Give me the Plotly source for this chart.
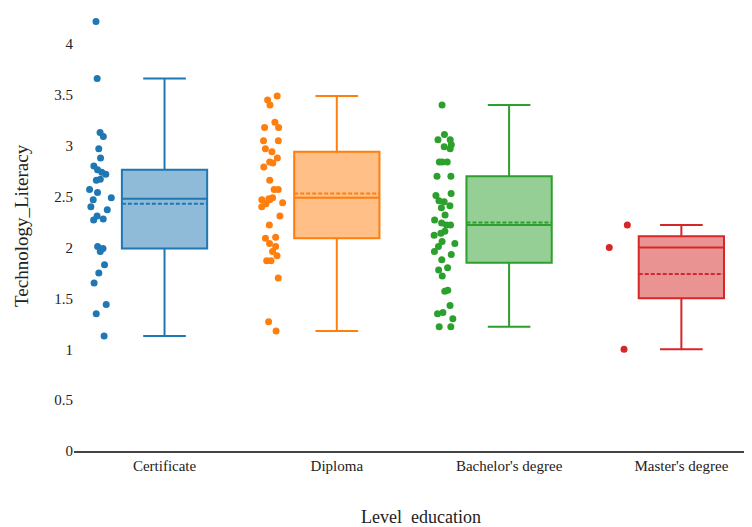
import plotly.graph_objects as go

categories = ["Certificate", "Diploma", "Bachelor's degree", "Master's degree"]
colors = ["#1f77b4", "#ff7f0e", "#2ca02c", "#d62728"]
fills = ["rgba(31,119,180,0.5)", "rgba(255,127,14,0.5)",
         "rgba(44,160,44,0.5)", "rgba(214,39,40,0.5)"]

certificate = [1.13, 1.35, 1.44, 1.65, 1.75, 1.83, 1.96, 1.99, 2.01, 2.27,
               2.28, 2.31, 2.37, 2.40, 2.47, 2.49, 2.54, 2.57, 2.66, 2.67,
               2.72, 2.74, 2.765, 2.80, 2.88, 2.97, 3.09, 3.13, 3.66, 4.22]
diploma = [1.18, 1.27, 1.70, 1.87, 1.87, 1.92, 1.96, 2.01, 2.04, 2.09,
           2.10, 2.22, 2.31, 2.40, 2.43, 2.44, 2.47, 2.47, 2.49, 2.48,
           2.57, 2.57, 2.66, 2.79, 2.83, 2.84, 2.88, 2.94, 2.97, 3.05,
           3.05, 3.18, 3.18, 3.23, 3.40, 3.45, 3.49]
bachelor = [1.22, 1.22, 1.30, 1.35, 1.36, 1.43, 1.57, 1.58, 1.72, 1.78,
            1.80, 1.88, 1.93, 1.96, 2.01, 2.04, 2.06, 2.12, 2.14, 2.16,
            2.22, 2.22, 2.24, 2.27, 2.32, 2.39, 2.41, 2.45, 2.46, 2.51,
            2.53, 2.70, 2.70, 2.84, 2.84, 2.84, 2.97, 2.99, 3.01, 3.06,
            3.06, 3.11, 3.40]
master = [1.00, 2.00, 2.22]

q1_vals = [1.99, 2.09, 1.85, 1.50]
median_vals = [2.48, 2.49, 2.22, 2.00]
q3_vals = [2.765, 2.94, 2.70, 2.11]
mean_vals = [2.43, 2.53, 2.245, 1.74]
lower_whisker = [1.13, 1.18, 1.22, 1.00]
upper_whisker = [3.66, 3.49, 3.40, 2.22]

y_ticks = [0, 0.5, 1, 1.5, 2, 2.5, 3, 3.5, 4]
y_tick_text = ["0", "0.5", "1", "1.5", "2", "2.5", "3", "3.5", "4"]

groups = [certificate, diploma, bachelor, master]

fig = go.Figure()
for i, cat in enumerate(categories):
    fig.add_trace(go.Box(
        x=[cat], y=[groups[i]],
        q1=[q1_vals[i]], median=[median_vals[i]], q3=[q3_vals[i]],
        lowerfence=[lower_whisker[i]], upperfence=[upper_whisker[i]],
        mean=[mean_vals[i]], boxmean=True,
        boxpoints="all", jitter=0.3, pointpos=-1.5,
        marker=dict(color=colors[i], size=7),
        line=dict(color=colors[i], width=2),
        fillcolor=fills[i], width=0.495, whiskerwidth=0.5,
        showlegend=False, name=cat,
    ))

font_family = "Liberation Serif"
fig.update_layout(
    width=752, height=527,
    margin=dict(l=66, r=8, t=2, b=84),
    paper_bgcolor="white", plot_bgcolor="white",
    boxmode="overlay",
    font=dict(family=font_family, size=15, color="#222"),
    xaxis=dict(
        type="category", categoryorder="array", categoryarray=categories,
        range=[-0.5255, 3.41], showgrid=False, zeroline=False,
        showline=True, linecolor="#444", linewidth=2, ticks="",
        tickfont=dict(family=font_family, size=15, color="#222"),
    ),
    yaxis=dict(
        range=[0, 4.334], showgrid=False, zeroline=False, showline=False,
        tickvals=y_ticks, ticktext=y_tick_text, ticks="",
        tickfont=dict(family=font_family, size=15, color="#222"),
    ),
    annotations=[
        dict(text="Level  education", xref="paper", yref="paper",
             x=0.512, y=-0.1497, xanchor="center", yanchor="middle",
             showarrow=False, font=dict(family=font_family, size=18, color="#222")),
        dict(text="Technology_Literacy", xref="paper", yref="paper",
             x=-0.0767, y=0.5125, xanchor="center", yanchor="middle",
             textangle=-90, showarrow=False,
             font=dict(family=font_family, size=19, color="#222")),
    ],
)

fig.write_html("out.html")
